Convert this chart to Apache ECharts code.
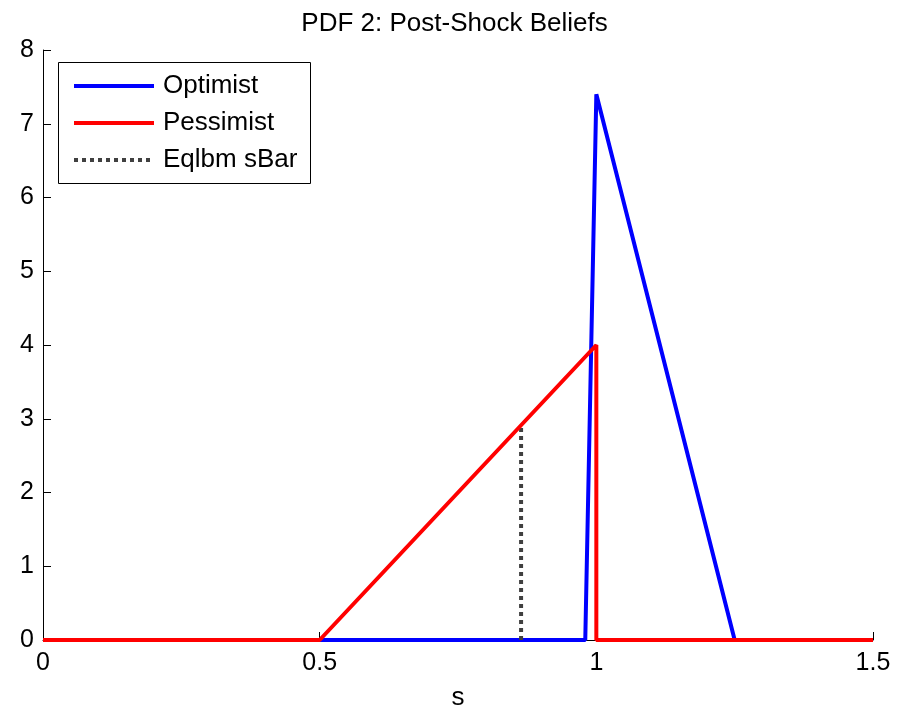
<!DOCTYPE html>
<html><head><meta charset="utf-8">
<script src="https://cdn.jsdelivr.net/npm/echarts@6/dist/echarts.min.js"></script>
<style>html,body{margin:0;padding:0;background:#fff}#c{width:909px;height:710px}</style>
</head><body><div id="c"></div>
<script>
const optimistX = [0, 0.98, 1.0, 1.25, 1.5];
const optimistY = [0, 0, 7.4, 0, 0];
const pessimistX = [0, 0.5, 1.0, 1.0, 1.5];
const pessimistY = [0, 0, 4, 0, 0];
const sBarX = [0.864, 0.864];
const sBarY = [0, 2.91];
const xTicks = [0, 0.5, 1, 1.5];
const yTicks = [0, 1, 2, 3, 4, 5, 6, 7, 8];
const legendNames = ['Optimist', 'Pessimist', 'Eqlbm sBar'];

const pairs = (xs, ys) => xs.map((x, i) => [x, ys[i]]);
const font = 'Liberation Sans, Arial, Helvetica, sans-serif';
const FS = 25;
const LFS = 26;
const colors = ['#0000ff', '#ff0000', '#404040'];
const dashes = ['solid', 'solid', [4, 4]];

const legendGraphics = [{
  type: 'rect', left: 58, top: 62, z: 100,
  shape: {width: 252, height: 121},
  style: {fill: '#fff', stroke: '#000', lineWidth: 1}
}];
legendNames.forEach((n, i) => {
  const y = 86 + i * 37;
  legendGraphics.push({type: 'line', z: 101,
    shape: {x1: 74, y1: y, x2: 154, y2: y},
    style: {stroke: colors[i], lineWidth: 4, lineDash: dashes[i] === 'solid' ? null : dashes[i]}});
  legendGraphics.push({type: 'text', z: 101, x: 163, y: y,
    style: {text: n, font: LFS + 'px ' + font, fill: '#000', textVerticalAlign: 'middle', verticalAlign: 'middle'}});
});

const chart = echarts.init(document.getElementById('c'), null, {renderer: 'canvas'});
chart.setOption({
  animation: false,
  backgroundColor: '#fff',
  title: {text: 'PDF 2: Post-Shock Beliefs', left: 'center', top: 6,
    textStyle: {fontFamily: font, fontSize: 26, fontWeight: 'normal', color: '#000'}},
  grid: {left: 43, right: 36, top: 50, bottom: 70, containLabel: false, outerBoundsMode: 'none'},
  graphic: legendGraphics,
  xAxis: {
    type: 'value', min: 0, max: 1.5, interval: 0.5,
    name: 's', nameLocation: 'middle', nameGap: 45,
    nameTextStyle: {fontFamily: font, fontSize: LFS, color: '#000'},
    axisLine: {show: true, onZero: false, lineStyle: {color: '#000', width: 1}},
    axisTick: {show: true, inside: true, length: 8, lineStyle: {color: '#000'}},
    axisLabel: {fontFamily: font, fontSize: FS, color: '#000', margin: 11,
      formatter: v => xTicks.includes(v) ? String(v) : ''},
    splitLine: {show: false}
  },
  yAxis: {
    type: 'value', min: 0, max: 8, interval: 1,
    axisLine: {show: true, onZero: false, lineStyle: {color: '#000', width: 1}},
    axisTick: {show: true, inside: true, length: 8, lineStyle: {color: '#000'}},
    axisLabel: {fontFamily: font, fontSize: FS, color: '#000', margin: 9,
      formatter: v => yTicks.includes(v) ? String(v) : ''},
    splitLine: {show: false}
  },
  series: [
    {name: 'Optimist', type: 'line', data: pairs(optimistX, optimistY), symbol: 'none',
      lineStyle: {color: colors[0], width: 4}, itemStyle: {color: colors[0]}, z: 2},
    {name: 'Eqlbm sBar', type: 'line', data: pairs(sBarX, sBarY), symbol: 'none',
      lineStyle: {color: colors[2], width: 4, type: [4, 4]}, itemStyle: {color: colors[2]}, z: 3},
    {name: 'Pessimist', type: 'line', data: pairs(pessimistX, pessimistY), symbol: 'none',
      lineStyle: {color: colors[1], width: 4}, itemStyle: {color: colors[1]}, z: 4}
  ]
});
</script></body></html>
